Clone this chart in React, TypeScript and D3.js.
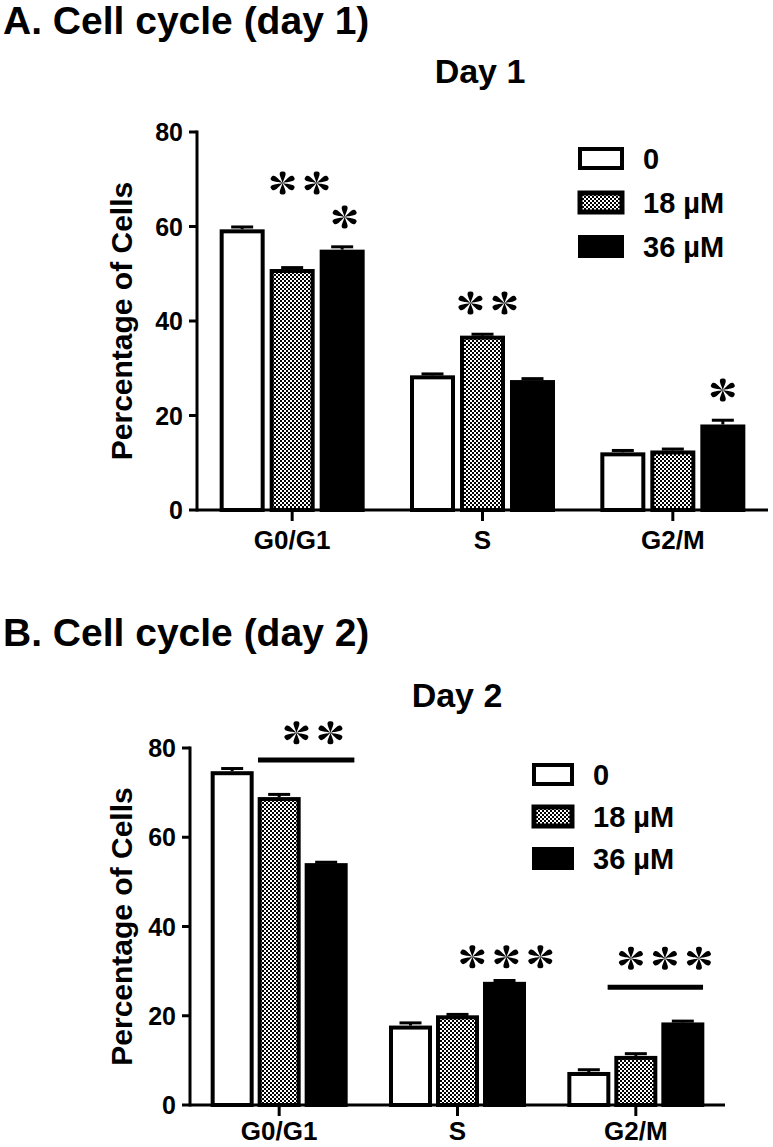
import React from "react";
import * as d3 from "d3";

const categories = ["G0/G1", "S", "G2/M"];
const seriesNames = ["0", "18 µM", "36 µM"];
const yTicks = [0, 20, 40, 60, 80];

// Day 1 values (per series, in category order)
const day1Control = [59.4, 28.5, 12.2];
const day1Low = [51.0, 36.9, 12.6];
const day1High = [55.1, 27.5, 18.1];
const day1ControlErr = [0.5, 0.3, 0.4];
const day1LowErr = [0.3, 0.3, 0.3];
const day1HighErr = [0.6, 0.3, 0.9];

// Day 2 values
const day2Control = [74.8, 17.8, 7.4];
const day2Low = [69.0, 20.1, 11.0];
const day2High = [54.2, 27.6, 18.5];
const day2ControlErr = [0.6, 0.6, 0.5];
const day2LowErr = [0.6, 0.2, 0.5];
const day2HighErr = [0.2, 0.3, 0.3];

// significance marks: category, bar position offset (in bar pitches from group center), y value, count
const day1Stars = [
  { cat: "G0/G1", pos: 0.15, y: 69.2, n: 2 },
  { cat: "G0/G1", pos: 1.05, y: 62.0, n: 1 },
  { cat: "S", pos: 0.1, y: 43.8, n: 2 },
  { cat: "G2/M", pos: 1.0, y: 25.4, n: 1 },
];
const day1Lines: { cat: string; from: number; to: number; y: number }[] = [];

const day2Stars = [
  { cat: "G0/G1", pos: 0.73, y: 83.4, n: 2 },
  { cat: "S", pos: 1.04, y: 33.2, n: 3 },
  { cat: "G2/M", pos: 0.62, y: 32.9, n: 3 },
];
const day2Lines = [
  { cat: "G0/G1", from: -0.45, to: 1.6, y: 77.3 },
  { cat: "G2/M", from: -0.6, to: 1.43, y: 26.4 },
];

const FONT = "'Liberation Sans', Arial, sans-serif";

function starPath(r: number): string {
  let p = "";
  for (let k = 0; k < 6; k++) {
    const a = ((-90 + k * 60) * Math.PI) / 180;
    const dx = Math.cos(a), dy = Math.sin(a);
    const nx = -dy, ny = dx;
    const pt = (s: number, t: number) => `${(s * dx + t * nx).toFixed(2)},${(s * dy + t * ny).toFixed(2)}`;
    p += `M0,0 C${pt(0.4 * r, 0.1 * r)} ${pt(1.02 * r, 0.46 * r)} ${pt(r, 0)} C${pt(1.02 * r, -0.46 * r)} ${pt(0.4 * r, -0.1 * r)} 0,0 Z `;
  }
  return p;
}

type ChartCfg = {
  axisX: number;
  right: number;
  yTop: number;
  yBottom: number;
  barW: number;
  pitch: number;
  series: number[][];
  errors: number[][];
  stars: { cat: string; pos: number; y: number; n: number }[];
  lines: { cat: string; from: number; to: number; y: number }[];
  title: string;
  titleX: number;
  titleY: number;
  legendX: number;
  legendY: number;
  legendPitch: number;
  legendW: number;
  legendTextX: number;
  catLabelY: number;
  yLabelX: number;
};

function Chart({ c }: { c: ChartCfg }) {
  const x = d3.scaleBand<string>().domain(categories).range([c.axisX, c.right]).padding(0);
  const y = d3.scaleLinear().domain([0, 80]).range([c.yBottom, c.yTop]);
  const fills = ["#ffffff", "url(#checker)", "#000000"];
  const sw = 4;
  const center = (cat: string) => (x(cat) as number) + x.bandwidth() / 2;
  const star = starPath(12.5);
  return (
    <g>
      <text x={c.titleX} y={c.titleY} textAnchor="middle" fontFamily={FONT} fontWeight="bold" fontSize={34}>
        {c.title}
      </text>
      {/* bars */}
      {c.series.map((vals, si) =>
        categories.map((cat, ci) => {
          const cx = center(cat) + (si - 1) * c.pitch;
          const v = vals[ci];
          const e = c.errors[si][ci];
          return (
            <g key={`${si}-${ci}`}>
              <line x1={cx} x2={cx} y1={y(v)} y2={y(v + e)} stroke="#000" strokeWidth={3} />
              <line x1={cx - 11} x2={cx + 11} y1={y(v + e)} y2={y(v + e)} stroke="#000" strokeWidth={3} />
              <rect
                x={cx - c.barW / 2 + sw / 2}
                y={y(v) + sw / 2}
                width={c.barW - sw}
                height={y(0) - y(v) - sw / 2}
                fill={fills[si]}
                stroke="#000"
                strokeWidth={sw}
              />
            </g>
          );
        })
      )}
      {/* y axis */}
      <line x1={c.axisX} x2={c.axisX} y1={c.yTop - 1.5} y2={c.yBottom + 1.5} stroke="#000" strokeWidth={3} />
      {yTicks.map((t) => (
        <g key={t}>
          <line x1={c.axisX - 8} x2={c.axisX} y1={y(t)} y2={y(t)} stroke="#000" strokeWidth={3} />
          <text
            x={c.axisX - 14}
            y={y(t)}
            dy="0.36em"
            textAnchor="end"
            fontFamily={FONT}
            fontWeight="bold"
            fontSize={25}
          >
            {t}
          </text>
        </g>
      ))}
      <text
        transform={`translate(${c.yLabelX},${(c.yTop + c.yBottom) / 2}) rotate(-90)`}
        textAnchor="middle"
        fontFamily={FONT}
        fontWeight="bold"
        fontSize={30}
      >
        Percentage of Cells
      </text>
      {/* x axis */}
      <line x1={c.axisX} x2={c.right} y1={c.yBottom} y2={c.yBottom} stroke="#000" strokeWidth={3} />
      {categories.map((cat) => (
        <g key={cat}>
          <line x1={center(cat)} x2={center(cat)} y1={c.yBottom} y2={c.yBottom + 11} stroke="#000" strokeWidth={3} />
          <text x={center(cat)} y={c.catLabelY} textAnchor="middle" fontFamily={FONT} fontWeight="bold" fontSize={26}>
            {cat}
          </text>
        </g>
      ))}
      {/* significance */}
      {c.lines.map((l, i) => (
        <line
          key={i}
          x1={center(l.cat) + l.from * c.pitch}
          x2={center(l.cat) + l.to * c.pitch}
          y1={y(l.y)}
          y2={y(l.y)}
          stroke="#000"
          strokeWidth={5}
        />
      ))}
      {c.stars.map((s, i) => {
        const cx = center(s.cat) + s.pos * c.pitch;
        const gap = 34;
        return (
          <g key={i}>
            {d3.range(s.n).map((k) => (
              <path
                key={k}
                d={star}
                transform={`translate(${cx + (k - (s.n - 1) / 2) * gap},${y(s.y)}) scale(1.05,0.92)`}
                fill="#000"
              />
            ))}
          </g>
        );
      })}
      {/* legend */}
      {seriesNames.map((name, si) => {
        const ly = c.legendY + si * c.legendPitch;
        return (
          <g key={name}>
            <rect
              x={c.legendX + 2}
              y={ly + 2}
              width={c.legendW - 4}
              height={19}
              fill={fills[si]}
              stroke="#000"
              strokeWidth={si === 1 ? 5 : 4}
            />
            <text x={c.legendTextX} y={ly + 11.5} dy="0.36em" fontFamily={FONT} fontWeight="600" fontSize={29}>
              {name}
            </text>
          </g>
        );
      })}
    </g>
  );
}

export default function App() {
  const chartA: ChartCfg = {
    axisX: 197,
    right: 768,
    yTop: 132,
    yBottom: 510,
    barW: 45,
    pitch: 50,
    series: [day1Control, day1Low, day1High],
    errors: [day1ControlErr, day1LowErr, day1HighErr],
    stars: day1Stars,
    lines: day1Lines,
    title: "Day 1",
    titleX: 480,
    titleY: 83,
    legendX: 578,
    legendY: 147,
    legendPitch: 44,
    legendW: 46,
    legendTextX: 643,
    catLabelY: 549,
    yLabelX: 132,
  };
  const chartB: ChartCfg = {
    axisX: 190,
    right: 725,
    yTop: 748,
    yBottom: 1105,
    barW: 43,
    pitch: 47,
    series: [day2Control, day2Low, day2High],
    errors: [day2ControlErr, day2LowErr, day2HighErr],
    stars: day2Stars,
    lines: day2Lines,
    title: "Day 2",
    titleX: 457,
    titleY: 707,
    legendX: 532,
    legendY: 763,
    legendPitch: 42,
    legendW: 42,
    legendTextX: 593,
    catLabelY: 1140,
    yLabelX: 132,
  };
  return (
    <svg
      width={773}
      height={1147}
      style={{ position: "absolute", left: 0, top: 0, background: "#fff" }}
      xmlns="http://www.w3.org/2000/svg"
    >
      <defs>
        <pattern id="checker" width={4} height={4} patternUnits="userSpaceOnUse">
          <rect width={4} height={4} fill="#fff" />
          <rect x={0} y={0} width={2} height={2} fill="#000" />
          <rect x={2} y={2} width={2} height={2} fill="#000" />
        </pattern>
      </defs>
      <rect width={773} height={1147} fill="#fff" />
      <text x={3} y={34} fontFamily={FONT} fontWeight="bold" fontSize={39}>
        A. Cell cycle (day 1)
      </text>
      <text x={3} y={646} fontFamily={FONT} fontWeight="bold" fontSize={39}>
        B. Cell cycle (day 2)
      </text>
      <Chart c={chartA} />
      <Chart c={chartB} />
    </svg>
  );
}
